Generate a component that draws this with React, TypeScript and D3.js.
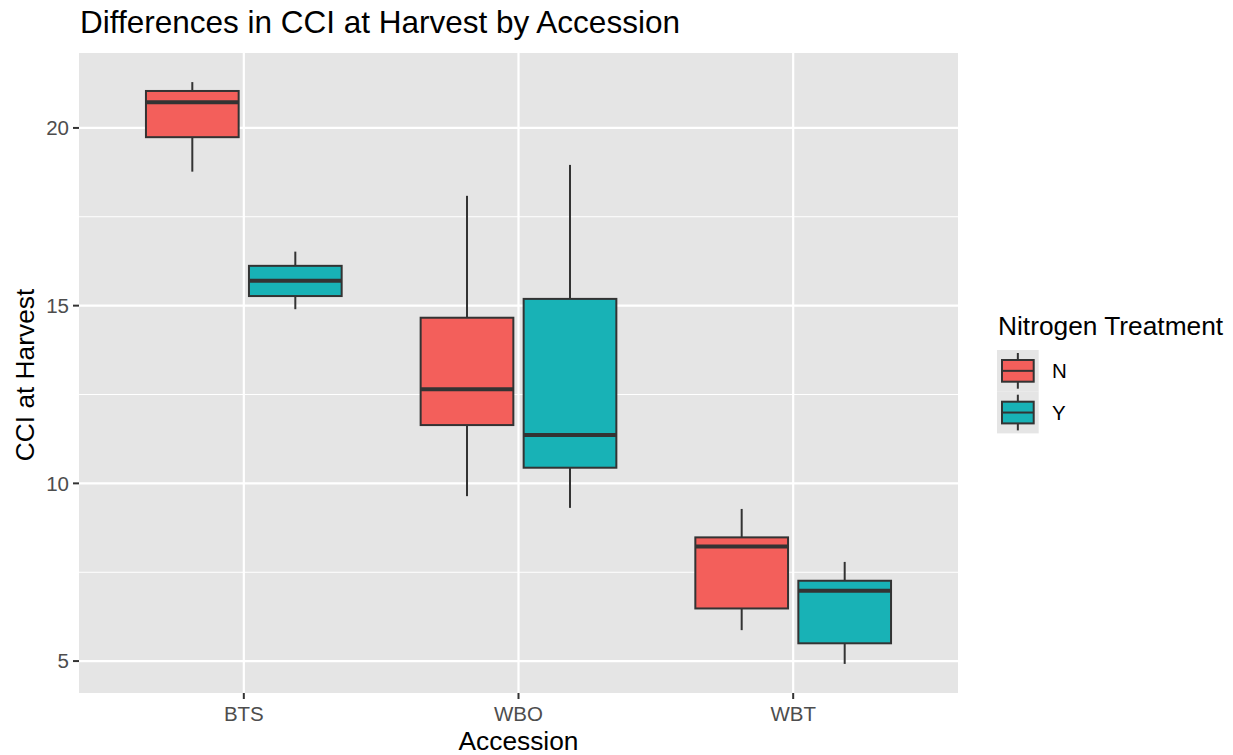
import React from "react";
import * as d3 from "d3";

const accessions = ["BTS", "WBO", "WBT"];
const treatments = ["N", "Y"];
const treatmentColors = ["#F35F5B", "#18B2B6"];

// five-number summaries per treatment, ordered like accessions
const nLow = [18.77, 9.64, 5.87];
const nQ1 = [19.74, 11.64, 6.48];
const nMedian = [20.72, 12.65, 8.22];
const nQ3 = [21.04, 14.66, 8.48];
const nHigh = [21.29, 18.09, 9.28];

const yLow = [14.9, 9.31, 4.92];
const yQ1 = [15.27, 10.44, 5.5];
const yMedian = [15.7, 11.36, 6.98];
const yQ3 = [16.12, 15.19, 7.26];
const yHigh = [16.52, 18.96, 7.79];

const yMajorTicks = [5, 10, 15, 20];
const yMinorTicks = [7.5, 12.5, 17.5];

const W = 1233;
const H = 755;
const panel = { left: 79, right: 958, top: 53, bottom: 693 };
const FONT = "'Liberation Sans', Arial, Helvetica, sans-serif";

type Box = { acc: string; tr: string; ti: number; low: number; q1: number; med: number; q3: number; high: number };

const boxes: Box[] = [];
accessions.forEach((acc, i) => {
  boxes.push({ acc, tr: "N", ti: 0, low: nLow[i], q1: nQ1[i], med: nMedian[i], q3: nQ3[i], high: nHigh[i] });
  boxes.push({ acc, tr: "Y", ti: 1, low: yLow[i], q1: yQ1[i], med: yMedian[i], q3: yQ3[i], high: yHigh[i] });
});

export default function App() {
  const x = d3.scalePoint<string>().domain(accessions).range([panel.left, panel.right]).padding(0.6);
  const step = x.step();
  const allVals = boxes.flatMap((b) => [b.low, b.high]);
  const [mn, mx] = d3.extent(allVals) as [number, number];
  const pad = (mx - mn) * 0.05;
  const y = d3.scaleLinear().domain([mn - pad, mx + pad]).range([panel.bottom, panel.top]);

  const dodge = 0.1875 * step;
  const boxW = 0.3375 * step;

  const legendX = 997;
  const legendY = 350;
  const keySize = 41.7;

  return (
    <svg width={W} height={H} style={{ position: "absolute", left: 0, top: 0, background: "#fff" }} fontFamily={FONT}>
      <rect x={panel.left} y={panel.top} width={panel.right - panel.left} height={panel.bottom - panel.top} fill="#E5E5E5" />
      {yMinorTicks.map((t) => (
        <line key={"mi" + t} x1={panel.left} x2={panel.right} y1={y(t)} y2={y(t)} stroke="#fff" strokeWidth={1.1} />
      ))}
      {yMajorTicks.map((t) => (
        <line key={"ma" + t} x1={panel.left} x2={panel.right} y1={y(t)} y2={y(t)} stroke="#fff" strokeWidth={2.2} />
      ))}
      {accessions.map((a) => (
        <line key={"vx" + a} x1={x(a)} x2={x(a)} y1={panel.top} y2={panel.bottom} stroke="#fff" strokeWidth={2.2} />
      ))}
      {boxes.map((b) => {
        const cx = (x(b.acc) as number) + (b.ti === 0 ? -dodge : dodge);
        return (
          <g key={b.acc + b.tr}>
            <line x1={cx} x2={cx} y1={y(b.high)} y2={y(b.q3)} stroke="#333" strokeWidth={2} />
            <line x1={cx} x2={cx} y1={y(b.q1)} y2={y(b.low)} stroke="#333" strokeWidth={2} />
            <rect x={cx - boxW / 2} y={y(b.q3)} width={boxW} height={y(b.q1) - y(b.q3)} fill={treatmentColors[b.ti]} stroke="#333" strokeWidth={2} />
            <line x1={cx - boxW / 2} x2={cx + boxW / 2} y1={y(b.med)} y2={y(b.med)} stroke="#333" strokeWidth={4} />
          </g>
        );
      })}
      {/* y axis */}
      {yMajorTicks.map((t) => (
        <g key={"yt" + t}>
          <line x1={panel.left - 6} x2={panel.left} y1={y(t)} y2={y(t)} stroke="#333" strokeWidth={2} />
          <text x={panel.left - 10} y={y(t)} dy="0.35em" textAnchor="end" fontSize={20.5} fill="#4D4D4D">
            {t}
          </text>
        </g>
      ))}
      {accessions.map((a) => (
        <g key={"xt" + a}>
          <line x1={x(a)} x2={x(a)} y1={panel.bottom} y2={panel.bottom + 6} stroke="#333" strokeWidth={2} />
          <text x={x(a)} y={panel.bottom + 28} textAnchor="middle" fontSize={20.5} fill="#4D4D4D">
            {a}
          </text>
        </g>
      ))}
      <text x={(panel.left + panel.right) / 2} y={750} textAnchor="middle" fontSize={26.3} fill="#000">
        Accession
      </text>
      <text transform={`translate(34, 375) rotate(-90)`} textAnchor="middle" fontSize={26.3} fill="#000">
        CCI at Harvest
      </text>
      <text x={80} y={33} fontSize={31.5} fill="#000">
        Differences in CCI at Harvest by Accession
      </text>
      {/* legend */}
      <text x={998} y={335} fontSize={26.3} fill="#000">
        Nitrogen Treatment
      </text>
      {treatments.map((t, i) => {
        const ky = legendY + i * keySize;
        const cx = legendX + keySize / 2;
        return (
          <g key={"lg" + t}>
            <rect x={legendX} y={ky} width={keySize} height={keySize} fill="#E5E5E5" />
            <line x1={cx} x2={cx} y1={ky + 3} y2={ky + keySize - 3} stroke="#333" strokeWidth={2} />
            <rect x={legendX + 5} y={ky + 10} width={keySize - 10} height={keySize - 20} fill={treatmentColors[i]} stroke="#333" strokeWidth={2} />
            <line x1={legendX + 5} x2={legendX + keySize - 5} y1={ky + keySize / 2} y2={ky + keySize / 2} stroke="#333" strokeWidth={2} />
            <text x={1052} y={ky + keySize / 2} dy="0.35em" fontSize={20.5} fill="#000">
              {t}
            </text>
          </g>
        );
      })}
    </svg>
  );
}
